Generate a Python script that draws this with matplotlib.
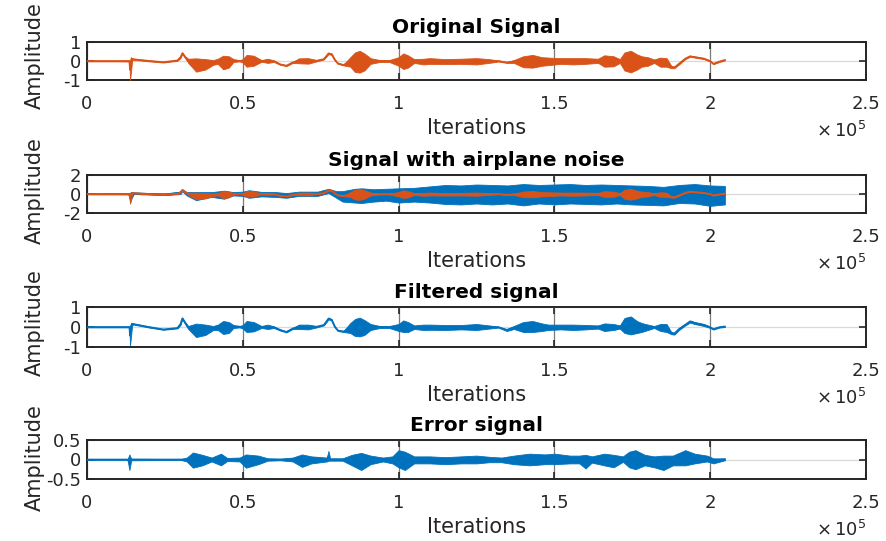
import matplotlib
matplotlib.use('Agg')
import matplotlib.pyplot as plt
from matplotlib.ticker import FuncFormatter
import numpy as np

# MATLAB default colours
BLUE = '#0072BD'
ORANGE = '#D95319'

# ---- data: envelopes (x in units of 1e5 samples) ----
orig_t = [0.00, 0.10, 0.136, 0.138, 0.141, 0.145, 0.15, 0.20, 0.245, 0.29, 0.300, 0.306, 0.315, 0.325,
          0.35, 0.38, 0.405, 0.42, 0.437, 0.455, 0.47, 0.49, 0.50, 0.512, 0.535, 0.56, 0.58, 0.60,
          0.62, 0.64, 0.66, 0.68, 0.71, 0.737, 0.76, 0.775, 0.785, 0.795, 0.805, 0.823, 0.845, 0.86,
          0.875, 0.89, 0.91, 0.94, 0.97, 1.00, 1.015, 1.03, 1.05, 1.08, 1.10, 1.15, 1.20, 1.25, 1.29,
          1.32, 1.347, 1.37, 1.40, 1.43, 1.46, 1.48, 1.52, 1.56, 1.60, 1.64, 1.66, 1.69, 1.71, 1.725,
          1.745, 1.765, 1.78, 1.80, 1.82, 1.84, 1.86, 1.875, 1.885, 1.90, 1.92, 1.935, 1.95, 1.98,
          2.00, 2.01, 2.03, 2.047]
orig_hi = [0.02, 0.02, 0.03, 0.05, 0.20, 0.15, 0.12, 0.03, -0.04, 0.05, 0.25, 0.45, 0.25, 0.12,
           0.14, 0.10, 0.05, 0.12, 0.28, 0.25, 0.10, 0.04, 0.10, 0.32, 0.28, 0.05, 0.12, 0.03,
           -0.15, -0.22, -0.05, 0.14, 0.15, 0.05, 0.12, 0.44, 0.40, 0.10, -0.10, -0.18, 0.20, 0.45,
           0.54, 0.40, 0.15, 0.05, 0.05, 0.20, 0.40, 0.30, 0.10, 0.12, 0.15, 0.10, 0.12, 0.15, 0.10,
           0.03, -0.05, 0.05, 0.25, 0.32, 0.20, 0.18, 0.15, 0.15, 0.15, 0.12, 0.30, 0.25, 0.10, 0.45,
           0.54, 0.35, 0.25, 0.20, 0.08, 0.18, 0.15, -0.25, -0.30, -0.10, 0.15, 0.28, 0.24, 0.15,
           0.02, -0.12, 0.00, 0.08]
orig_lo = [-0.02, -0.02, -0.03, -1.00, -0.60, 0.05, 0.06, -0.02, -0.08, 0.01, 0.15, 0.38, 0.15, -0.10,
           -0.56, -0.45, -0.20, -0.15, -0.44, -0.35, -0.05, -0.02, -0.08, -0.30, -0.25, -0.04, -0.10, -0.05,
           -0.20, -0.27, -0.10, -0.12, -0.14, -0.02, 0.08, 0.36, 0.32, 0.03, -0.15, -0.23, -0.30, -0.58,
           -0.61, -0.50, -0.15, -0.05, -0.05, -0.25, -0.42, -0.35, -0.10, -0.18, -0.15, -0.16, -0.15, -0.18, -0.10,
           -0.03, -0.10, -0.10, -0.33, -0.35, -0.25, -0.22, -0.15, -0.18, -0.15, -0.10, -0.30, -0.28, -0.10, -0.50,
           -0.60, -0.45, -0.30, -0.25, -0.10, -0.30, -0.30, -0.38, -0.38, -0.18, 0.10, 0.22, 0.18, 0.10,
           -0.03, -0.17, -0.05, 0.03]

filt_hi = [0.02, 0.02, 0.02, 0.05, 0.20, 0.20, 0.17, 0.02, -0.10, -0.03, 0.20, 0.47, 0.25, 0.05,
           0.17, 0.12, 0.05, 0.12, 0.30, 0.25, 0.10, 0.05, 0.10, 0.30, 0.25, 0.05, 0.12, 0.03,
           -0.12, -0.22, -0.05, 0.12, 0.12, 0.05, 0.12, 0.47, 0.40, 0.05, -0.15, -0.20, 0.20, 0.40,
           0.47, 0.35, 0.15, 0.05, 0.05, 0.15, 0.33, 0.25, 0.08, 0.12, 0.12, 0.10, 0.10, 0.15, 0.08,
           0.02, -0.10, 0.05, 0.25, 0.30, 0.18, 0.12, 0.12, 0.12, 0.10, 0.08, 0.18, 0.15, 0.08, 0.45,
           0.53, 0.30, 0.20, 0.12, 0.05, 0.15, 0.15, -0.25, -0.28, -0.05, 0.15, 0.33, 0.25, 0.15,
           0.02, -0.08, 0.02, 0.05]
filt_lo = [-0.02, -0.02, -0.02, -0.92, -0.50, 0.10, 0.12, -0.03, -0.14, -0.07, 0.10, 0.40, 0.15, -0.10,
           -0.50, -0.40, -0.15, -0.15, -0.35, -0.30, -0.05, -0.02, -0.08, -0.25, -0.22, -0.05, -0.10, -0.05,
           -0.18, -0.27, -0.10, -0.10, -0.12, -0.02, 0.08, 0.38, 0.32, -0.02, -0.20, -0.25, -0.30, -0.45,
           -0.47, -0.40, -0.15, -0.05, -0.05, -0.20, -0.25, -0.25, -0.10, -0.15, -0.14, -0.15, -0.12, -0.15, -0.08,
           -0.03, -0.20, -0.10, -0.25, -0.25, -0.20, -0.15, -0.12, -0.15, -0.12, -0.08, -0.20, -0.15, -0.08, -0.30,
           -0.37, -0.30, -0.25, -0.15, -0.05, -0.20, -0.25, -0.36, -0.38, -0.15, 0.08, 0.22, 0.15, 0.05,
           -0.05, -0.13, -0.03, 0.00]

noisy_t = [0.00, 0.136, 0.138, 0.141, 0.15, 0.20, 0.25, 0.30, 0.306, 0.32, 0.35, 0.40, 0.44, 0.47,
           0.50, 0.52, 0.56, 0.60, 0.64, 0.68, 0.74, 0.775, 0.80, 0.82, 0.86, 0.88, 0.92, 0.96,
           1.00, 1.05, 1.10, 1.15, 1.20, 1.25, 1.30, 1.35, 1.40, 1.45, 1.50, 1.55, 1.60, 1.65,
           1.70, 1.75, 1.80, 1.85, 1.90, 1.95, 2.00, 2.047]
noisy_hi = [0.03, 0.04, 0.10, 0.22, 0.15, 0.08, 0.05, 0.25, 0.50, 0.20, 0.20, 0.20, 0.35, 0.20,
            0.25, 0.40, 0.22, 0.22, 0.10, 0.25, 0.25, 0.55, 0.30, 0.30, 0.55, 0.60, 0.50, 0.55,
            0.60, 0.65, 0.80, 0.95, 0.90, 1.00, 0.95, 0.90, 1.05, 0.95, 1.00, 1.05, 0.95, 1.00,
            0.95, 0.90, 0.85, 0.75, 0.95, 1.05, 0.90, 0.85]
noisy_lo = [-0.03, -0.04, -1.00, -0.60, 0.00, -0.06, -0.12, 0.00, 0.30, -0.15, -0.65, -0.30, -0.50, -0.15,
            -0.20, -0.40, -0.25, -0.30, -0.40, -0.20, -0.20, 0.10, -0.40, -0.80, -0.90, -0.95, -0.80, -0.70,
            -0.90, -0.80, -0.90, -1.05, -1.10, -1.00, -1.10, -1.00, -1.20, -1.00, -1.10, -1.00, -1.05, -1.10,
            -1.00, -1.10, -1.15, -1.20, -0.95, -1.00, -1.25, -1.10]

err_t = [0.00, 0.13, 0.136, 0.142, 0.30, 0.32, 0.34, 0.37, 0.40, 0.43, 0.45, 0.49, 0.51, 0.55,
         0.58, 0.62, 0.66, 0.69, 0.72, 0.77, 0.775, 0.78, 0.82, 0.85, 0.88, 0.91, 0.95, 0.98,
         1.00, 1.02, 1.05, 1.10, 1.15, 1.20, 1.25, 1.29, 1.33, 1.37, 1.42, 1.47, 1.50, 1.55,
         1.58, 1.60, 1.62, 1.66, 1.69, 1.72, 1.74, 1.76, 1.79, 1.82, 1.85, 1.88, 1.92, 1.95,
         1.99, 2.01, 2.047]
err_hi = [0.005, 0.005, 0.13, 0.02, 0.01, 0.05, 0.18, 0.12, 0.05, 0.15, 0.04, 0.05, 0.13, 0.10,
          0.03, 0.02, 0.05, 0.13, 0.08, 0.05, 0.22, 0.03, 0.03, 0.12, 0.17, 0.10, 0.05, 0.08,
          0.24, 0.20, 0.08, 0.08, 0.06, 0.08, 0.10, 0.07, 0.05, 0.10, 0.15, 0.13, 0.15, 0.10,
          0.10, 0.12, 0.08, 0.15, 0.12, 0.08, 0.20, 0.24, 0.12, 0.08, 0.10, 0.10, 0.24, 0.15,
          0.10, 0.03, 0.03]
err_lo = [-0.005, -0.005, -0.27, -0.02, -0.01, -0.05, -0.21, -0.15, -0.05, -0.15, -0.04, -0.05, -0.21, -0.12,
          -0.03, -0.02, -0.05, -0.19, -0.10, -0.05, -0.03, -0.03, -0.03, -0.15, -0.27, -0.12, -0.05, -0.10,
          -0.20, -0.27, -0.10, -0.10, -0.12, -0.10, -0.10, -0.07, -0.07, -0.12, -0.15, -0.12, -0.12, -0.10,
          -0.10, -0.23, -0.08, -0.15, -0.20, -0.06, -0.20, -0.25, -0.15, -0.20, -0.27, -0.15, -0.15, -0.10,
          -0.05, -0.10, -0.02]

titles = ['Original Signal', 'Signal with airplane noise', 'Filtered signal', 'Error signal']
ylims = [(-1, 1), (-2, 2), (-1, 1), (-0.5, 0.5)]
yticks = [[-1, 0, 1], [-2, 0, 2], [-1, 0, 1], [-0.5, 0, 0.5]]
xticks = [0, 0.5e5, 1e5, 1.5e5, 2e5, 2.5e5]

# ---- figure ----
W, H = 887, 541
fig = plt.figure(figsize=(W / 100, H / 100), dpi=100)
plt.rcParams['font.family'] = ['DejaVu Sans']

# axes rows in pixels (top, bottom)
rows = [(42, 80), (175, 213), (307, 347), (440, 479)]
ylab_y = [0.63, 0.6, 0.62, 0.56]
left_px, right_px = 87, 866


def envelope(ax, t, hi, lo, color):
    x = np.asarray(t) * 1e5
    hi = np.asarray(hi)
    lo = np.asarray(lo)
    ax.fill_between(x, lo, hi, color=color, linewidth=0.6, edgecolor=color, zorder=3)
    ax.plot(x, (hi + lo) / 2, color=color, linewidth=1.2, zorder=3)


axes = []
for i, (top, bot) in enumerate(rows):
    ax = fig.add_axes([left_px / W, 1 - bot / H, (right_px - left_px) / W, (bot - top) / H])
    axes.append(ax)
    ax.set_xlim(0, 2.5e5)
    ax.set_ylim(*ylims[i])
    ax.set_xticks(xticks)
    ax.set_yticks(yticks[i])
    ax.xaxis.set_major_formatter(FuncFormatter(lambda v, p: f'{v / 1e5:g}'))
    ax.yaxis.set_major_formatter(FuncFormatter(lambda v, p: f'{v:g}'))
    ax.tick_params(direction='in', top=True, right=True, length=5, width=1.2,
                   labelsize=13, colors='#262626')
    ax.tick_params(axis='x', pad=10.5)
    ax.tick_params(axis='y', pad=4)
    ax.grid(axis='x', color='#7a7a7a', linewidth=0.9, zorder=0)
    ax.grid(axis='y', color='#d9d9d9', linewidth=0.9, zorder=0)
    ax.set_axisbelow(True)
    for s in ax.spines.values():
        s.set_linewidth(1.4)
        s.set_color('#262626')
    h = bot - top
    ax.set_title(titles[i], fontsize=14.5, fontweight='bold', pad=6.5, color='black')
    ax.set_xlabel('Iterations', fontsize=15, color='#262626')
    ax.xaxis.set_label_coords(0.5, -38 / h)
    ax.set_ylabel('Amplitude', fontsize=15, color='#262626')
    ax.yaxis.set_label_coords(-0.054, ylab_y[i])
    ax.annotate(r'$\times\,10^{5}$', xy=(1, 0), xycoords='axes fraction',
                xytext=(0, -41), textcoords='offset points',
                ha='right', va='baseline', fontsize=13, color='#262626')

envelope(axes[0], orig_t, orig_hi, orig_lo, ORANGE)
envelope(axes[1], noisy_t, noisy_hi, noisy_lo, BLUE)
envelope(axes[1], orig_t, orig_hi, orig_lo, ORANGE)
envelope(axes[2], orig_t, filt_hi, filt_lo, BLUE)
envelope(axes[3], err_t, err_hi, err_lo, BLUE)

fig.savefig('out.png', dpi=100, facecolor='white')
